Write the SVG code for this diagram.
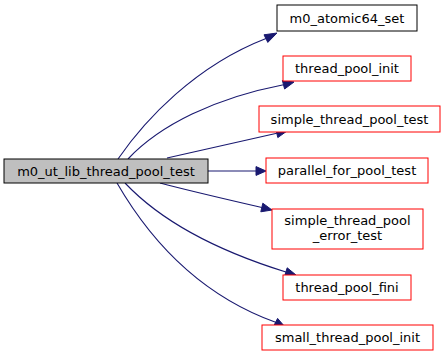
<svg xmlns="http://www.w3.org/2000/svg" width="444" height="357" viewBox="0 0 444 357">
  <style>
    .bg { fill: #ffffff; }
    .node rect { fill: #ffffff; stroke: #ff0000; stroke-width: 1; }
    .node.plain rect { stroke: #000000; }
    .node.root rect { fill: #bfbfbf; stroke: #000000; }
    .node text { font-family: "DejaVu Sans", "Liberation Sans", sans-serif; font-size: 13px; fill: #000000; text-anchor: middle; }
    .edges path { fill: none; stroke: #191970; stroke-width: 1.1; }
    .edges polygon { fill: #191970; stroke: #191970; stroke-width: 1; }
  </style>
  <rect class="bg" x="0" y="0" width="444" height="357"/>

  <g id="edges" class="edges">
    <!-- root -> m0_atomic64_set -->
    <path d="M118,159 C145,120 195,66 266,38.5"/>
    <polygon points="267.8,42.4 277,33 264,34.8"/>
    <!-- root -> thread_pool_init -->
    <path d="M128,159 C160,125 215,98 283.5,84.8"/>
    <polygon points="284.6,89 294,82 282.4,80.6"/>
    <!-- root -> simple_thread_pool_test -->
    <path d="M167,158 C195,152 235,143 276.8,133.3"/>
    <polygon points="277.8,137.6 287,131 275.8,129"/>
    <!-- root -> parallel_for_pool_test -->
    <path d="M208,171 L256,171"/>
    <polygon points="256,166.6 266,171 256,175.4"/>
    <!-- root -> simple_thread_pool_error_test -->
    <path d="M160,183 C190,191 225,199 261.8,207.5"/>
    <polygon points="260.8,211.8 272,210 262.8,203.2"/>
    <!-- root -> thread_pool_fini -->
    <path d="M125,183 C160,220 215,250 285.9,272"/>
    <polygon points="284.6,276.2 296,275 287.2,267.8"/>
    <!-- root -> small_thread_pool_init -->
    <path d="M117,183 C150,240 200,295 275.6,322.3"/>
    <polygon points="273.6,326.2 285,327 277.6,318.4"/>
  </g>

  <g id="m0_ut_lib_thread_pool_test" class="node root">
    <rect x="4" y="159" width="204" height="24"/>
    <text x="106" y="175.5">m0_ut_lib_thread_pool_test</text>
  </g>

  <g id="m0_atomic64_set" class="node plain">
    <rect x="277" y="5" width="140" height="26"/>
    <text x="347" y="22.5">m0_atomic64_set</text>
  </g>

  <g id="thread_pool_init" class="node">
    <rect x="283" y="56" width="128" height="25"/>
    <text x="347" y="73">thread_pool_init</text>
  </g>

  <g id="simple_thread_pool_test" class="node">
    <rect x="259" y="106" width="181" height="26"/>
    <text x="349.5" y="123.5">simple_thread_pool_test</text>
  </g>

  <g id="parallel_for_pool_test" class="node">
    <rect x="266" y="158" width="162" height="25"/>
    <text x="347" y="175">parallel_for_pool_test</text>
  </g>

  <g id="simple_thread_pool_error_test" class="node">
    <rect x="272" y="209" width="151" height="40"/>
    <text x="347.5" y="224.5">simple_thread_pool</text>
    <text x="347.5" y="239.5">_error_test</text>
  </g>

  <g id="thread_pool_fini" class="node">
    <rect x="283" y="275" width="128" height="25"/>
    <text x="347" y="292">thread_pool_fini</text>
  </g>

  <g id="small_thread_pool_init" class="node">
    <rect x="262" y="325" width="171" height="25"/>
    <text x="347.5" y="342">small_thread_pool_init</text>
  </g>
</svg>
